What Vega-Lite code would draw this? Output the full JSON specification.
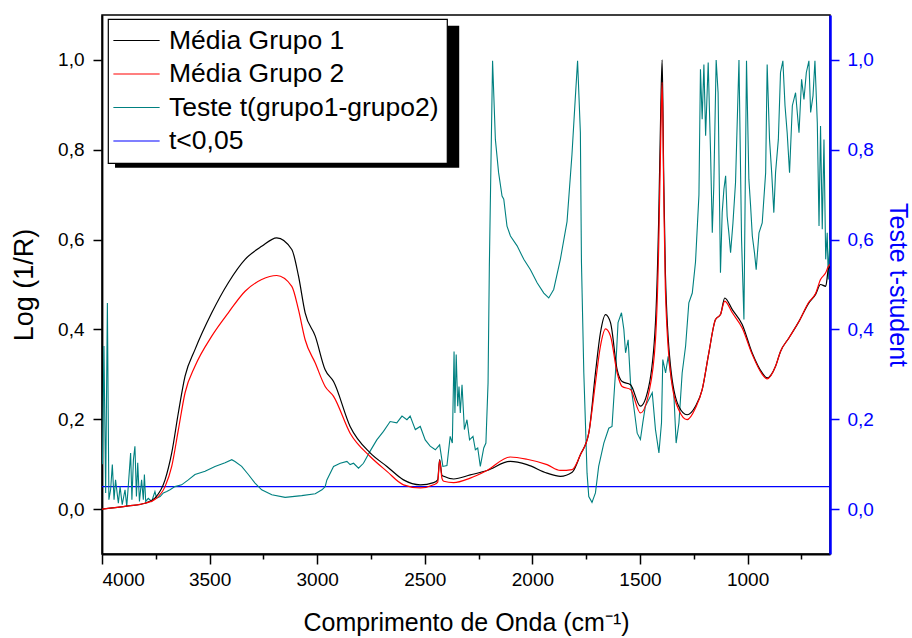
{
  "$schema": "https://vega.github.io/schema/vega-lite/v6.json",
  "width": 728,
  "height": 539,
  "autosize": {"type": "none"},
  "padding": {"left": 102, "top": 15, "right": 82, "bottom": 84},
  "background": "white",
  "config": {
    "font": "Liberation Sans",
    "view": {"stroke": "black", "strokeWidth": 1.5},
    "axis": {"grid": false, "labelFont": "Liberation Sans", "titleFont": "Liberation Sans", "labelColor": "black", "titleColor": "black", "tickColor": "black", "domainColor": "black", "tickWidth": 1.5, "domainWidth": 1.8, "labelFontSize": 19, "titleFontSize": 26, "titleFontWeight": "normal"},
    "legend": {"orient": "none", "legendX": 6, "legendY": 4, "symbolType": "M-1.85,0L1.85,0", "symbolSize": 625, "symbolOffset": 7, "symbolStrokeWidth": 1.2, "labelFont": "Liberation Sans", "labelFontSize": 26.5, "labelColor": "black", "labelLimit": 400, "labelOffset": 19, "fillColor": "white", "strokeColor": "black", "strokeWidth": 1.2, "padding": 8, "rowPadding": 6.5, "cornerRadius": 0}
  },
  "datasets": {
    "spectra": [
      {"s":"Média Grupo 1","x":4000,"y":0.0},{"s":"Média Grupo 1","x":3878,"y":0.007},{"s":"Média Grupo 1","x":3800,"y":0.013},{"s":"Média Grupo 1","x":3753,"y":0.025},{"s":"Média Grupo 1","x":3707,"y":0.065},{"s":"Média Grupo 1","x":3676,"y":0.125},{"s":"Média Grupo 1","x":3645,"y":0.215},{"s":"Média Grupo 1","x":3614,"y":0.296},{"s":"Média Grupo 1","x":3568,"y":0.355},{"s":"Média Grupo 1","x":3490,"y":0.437},{"s":"Média Grupo 1","x":3413,"y":0.504},{"s":"Média Grupo 1","x":3335,"y":0.556},{"s":"Média Grupo 1","x":3258,"y":0.585},{"s":"Média Grupo 1","x":3188,"y":0.604},{"s":"Média Grupo 1","x":3118,"y":0.578},{"s":"Média Grupo 1","x":3087,"y":0.519},{"s":"Média Grupo 1","x":3056,"y":0.437},{"s":"Média Grupo 1","x":3009,"y":0.385},{"s":"Média Grupo 1","x":2963,"y":0.31},{"s":"Média Grupo 1","x":2924,"y":0.284},{"s":"Média Grupo 1","x":2847,"y":0.184},{"s":"Média Grupo 1","x":2754,"y":0.125},{"s":"Média Grupo 1","x":2676,"y":0.095},{"s":"Média Grupo 1","x":2599,"y":0.065},{"s":"Média Grupo 1","x":2521,"y":0.054},{"s":"Média Grupo 1","x":2459,"y":0.059},{"s":"Média Grupo 1","x":2440,"y":0.065},{"s":"Média Grupo 1","x":2431,"y":0.11},{"s":"Média Grupo 1","x":2420,"y":0.075},{"s":"Média Grupo 1","x":2412,"y":0.073},{"s":"Média Grupo 1","x":2366,"y":0.067},{"s":"Média Grupo 1","x":2289,"y":0.076},{"s":"Média Grupo 1","x":2211,"y":0.086},{"s":"Média Grupo 1","x":2103,"y":0.106},{"s":"Média Grupo 1","x":2025,"y":0.099},{"s":"Média Grupo 1","x":1932,"y":0.08},{"s":"Média Grupo 1","x":1870,"y":0.073},{"s":"Média Grupo 1","x":1815,"y":0.082},{"s":"Média Grupo 1","x":1777,"y":0.121},{"s":"Média Grupo 1","x":1738,"y":0.169},{"s":"Média Grupo 1","x":1707,"y":0.303},{"s":"Média Grupo 1","x":1684,"y":0.392},{"s":"Média Grupo 1","x":1660,"y":0.433},{"s":"Média Grupo 1","x":1637,"y":0.415},{"s":"Média Grupo 1","x":1606,"y":0.31},{"s":"Média Grupo 1","x":1583,"y":0.284},{"s":"Média Grupo 1","x":1544,"y":0.277},{"s":"Média Grupo 1","x":1498,"y":0.229},{"s":"Média Grupo 1","x":1459,"y":0.273},{"s":"Média Grupo 1","x":1428,"y":0.415},{"s":"Média Grupo 1","x":1413,"y":0.645},{"s":"Média Grupo 1","x":1403,"y":0.9},{"s":"Média Grupo 1","x":1397,"y":1.0},{"s":"Média Grupo 1","x":1390,"y":0.75},{"s":"Média Grupo 1","x":1382,"y":0.526},{"s":"Média Grupo 1","x":1358,"y":0.318},{"s":"Média Grupo 1","x":1320,"y":0.229},{"s":"Média Grupo 1","x":1281,"y":0.21},{"s":"Média Grupo 1","x":1242,"y":0.229},{"s":"Média Grupo 1","x":1211,"y":0.266},{"s":"Média Grupo 1","x":1180,"y":0.348},{"s":"Média Grupo 1","x":1149,"y":0.422},{"s":"Média Grupo 1","x":1126,"y":0.433},{"s":"Média Grupo 1","x":1106,"y":0.47},{"s":"Média Grupo 1","x":1071,"y":0.444},{"s":"Média Grupo 1","x":1025,"y":0.411},{"s":"Média Grupo 1","x":979,"y":0.348},{"s":"Média Grupo 1","x":932,"y":0.303},{"s":"Média Grupo 1","x":909,"y":0.292},{"s":"Média Grupo 1","x":870,"y":0.318},{"s":"Média Grupo 1","x":847,"y":0.351},{"s":"Média Grupo 1","x":808,"y":0.381},{"s":"Média Grupo 1","x":761,"y":0.418},{"s":"Média Grupo 1","x":715,"y":0.459},{"s":"Média Grupo 1","x":684,"y":0.478},{"s":"Média Grupo 1","x":661,"y":0.5},{"s":"Média Grupo 1","x":637,"y":0.496},{"s":"Média Grupo 1","x":625,"y":0.533},{"s":"Média Grupo 1","x":617,"y":0.54},
      {"s":"Média Grupo 2","x":4000,"y":0.0},{"s":"Média Grupo 2","x":3878,"y":0.007},{"s":"Média Grupo 2","x":3800,"y":0.013},{"s":"Média Grupo 2","x":3753,"y":0.022},{"s":"Média Grupo 2","x":3707,"y":0.05},{"s":"Média Grupo 2","x":3676,"y":0.095},{"s":"Média Grupo 2","x":3645,"y":0.177},{"s":"Média Grupo 2","x":3614,"y":0.259},{"s":"Média Grupo 2","x":3568,"y":0.318},{"s":"Média Grupo 2","x":3490,"y":0.385},{"s":"Média Grupo 2","x":3413,"y":0.437},{"s":"Média Grupo 2","x":3335,"y":0.485},{"s":"Média Grupo 2","x":3258,"y":0.511},{"s":"Média Grupo 2","x":3188,"y":0.52},{"s":"Média Grupo 2","x":3118,"y":0.496},{"s":"Média Grupo 2","x":3087,"y":0.444},{"s":"Média Grupo 2","x":3056,"y":0.377},{"s":"Média Grupo 2","x":3009,"y":0.325},{"s":"Média Grupo 2","x":2963,"y":0.273},{"s":"Média Grupo 2","x":2924,"y":0.251},{"s":"Média Grupo 2","x":2847,"y":0.169},{"s":"Média Grupo 2","x":2754,"y":0.117},{"s":"Média Grupo 2","x":2676,"y":0.084},{"s":"Média Grupo 2","x":2599,"y":0.054},{"s":"Média Grupo 2","x":2521,"y":0.047},{"s":"Média Grupo 2","x":2459,"y":0.054},{"s":"Média Grupo 2","x":2440,"y":0.06},{"s":"Média Grupo 2","x":2431,"y":0.108},{"s":"Média Grupo 2","x":2420,"y":0.068},{"s":"Média Grupo 2","x":2412,"y":0.062},{"s":"Média Grupo 2","x":2366,"y":0.059},{"s":"Média Grupo 2","x":2289,"y":0.069},{"s":"Média Grupo 2","x":2211,"y":0.086},{"s":"Média Grupo 2","x":2103,"y":0.116},{"s":"Média Grupo 2","x":2025,"y":0.111},{"s":"Média Grupo 2","x":1932,"y":0.099},{"s":"Média Grupo 2","x":1870,"y":0.086},{"s":"Média Grupo 2","x":1815,"y":0.088},{"s":"Média Grupo 2","x":1777,"y":0.121},{"s":"Média Grupo 2","x":1738,"y":0.169},{"s":"Média Grupo 2","x":1707,"y":0.281},{"s":"Média Grupo 2","x":1684,"y":0.362},{"s":"Média Grupo 2","x":1660,"y":0.401},{"s":"Média Grupo 2","x":1637,"y":0.385},{"s":"Média Grupo 2","x":1606,"y":0.303},{"s":"Média Grupo 2","x":1583,"y":0.273},{"s":"Média Grupo 2","x":1544,"y":0.266},{"s":"Média Grupo 2","x":1498,"y":0.214},{"s":"Média Grupo 2","x":1459,"y":0.259},{"s":"Média Grupo 2","x":1428,"y":0.377},{"s":"Média Grupo 2","x":1413,"y":0.585},{"s":"Média Grupo 2","x":1403,"y":0.84},{"s":"Média Grupo 2","x":1397,"y":0.95},{"s":"Média Grupo 2","x":1390,"y":0.72},{"s":"Média Grupo 2","x":1382,"y":0.489},{"s":"Média Grupo 2","x":1358,"y":0.303},{"s":"Média Grupo 2","x":1320,"y":0.221},{"s":"Média Grupo 2","x":1281,"y":0.199},{"s":"Média Grupo 2","x":1242,"y":0.225},{"s":"Média Grupo 2","x":1211,"y":0.266},{"s":"Média Grupo 2","x":1180,"y":0.348},{"s":"Média Grupo 2","x":1149,"y":0.422},{"s":"Média Grupo 2","x":1126,"y":0.433},{"s":"Média Grupo 2","x":1106,"y":0.463},{"s":"Média Grupo 2","x":1071,"y":0.437},{"s":"Média Grupo 2","x":1025,"y":0.403},{"s":"Média Grupo 2","x":979,"y":0.345},{"s":"Média Grupo 2","x":932,"y":0.3},{"s":"Média Grupo 2","x":909,"y":0.29},{"s":"Média Grupo 2","x":870,"y":0.318},{"s":"Média Grupo 2","x":847,"y":0.351},{"s":"Média Grupo 2","x":808,"y":0.381},{"s":"Média Grupo 2","x":761,"y":0.418},{"s":"Média Grupo 2","x":715,"y":0.461},{"s":"Média Grupo 2","x":684,"y":0.48},{"s":"Média Grupo 2","x":661,"y":0.511},{"s":"Média Grupo 2","x":637,"y":0.526},{"s":"Média Grupo 2","x":625,"y":0.54},{"s":"Média Grupo 2","x":617,"y":0.545}
    ],
    "ttest": [
      {"s":"t<0,05","x":4000,"y":0.05},{"s":"t<0,05","x":617,"y":0.05},
      {"s":"Teste t(grupo1-grupo2)","x":3998,"y":0.1},{"s":"Teste t(grupo1-grupo2)","x":3991,"y":0.363},{"s":"Teste t(grupo1-grupo2)","x":3983,"y":0.036},{"s":"Teste t(grupo1-grupo2)","x":3975,"y":0.459},{"s":"Teste t(grupo1-grupo2)","x":3968,"y":0.021},{"s":"Teste t(grupo1-grupo2)","x":3960,"y":0.043},{"s":"Teste t(grupo1-grupo2)","x":3952,"y":0.099},{"s":"Teste t(grupo1-grupo2)","x":3944,"y":0.021},{"s":"Teste t(grupo1-grupo2)","x":3937,"y":0.065},{"s":"Teste t(grupo1-grupo2)","x":3924,"y":0.013},{"s":"Teste t(grupo1-grupo2)","x":3916,"y":0.05},{"s":"Teste t(grupo1-grupo2)","x":3906,"y":0.01},{"s":"Teste t(grupo1-grupo2)","x":3893,"y":0.043},{"s":"Teste t(grupo1-grupo2)","x":3885,"y":0.006},{"s":"Teste t(grupo1-grupo2)","x":3878,"y":0.05},{"s":"Teste t(grupo1-grupo2)","x":3867,"y":0.125},{"s":"Teste t(grupo1-grupo2)","x":3861,"y":0.021},{"s":"Teste t(grupo1-grupo2)","x":3854,"y":0.11},{"s":"Teste t(grupo1-grupo2)","x":3847,"y":0.14},{"s":"Teste t(grupo1-grupo2)","x":3840,"y":0.028},{"s":"Teste t(grupo1-grupo2)","x":3834,"y":0.103},{"s":"Teste t(grupo1-grupo2)","x":3826,"y":0.017},{"s":"Teste t(grupo1-grupo2)","x":3816,"y":0.065},{"s":"Teste t(grupo1-grupo2)","x":3808,"y":0.021},{"s":"Teste t(grupo1-grupo2)","x":3803,"y":0.077},{"s":"Teste t(grupo1-grupo2)","x":3797,"y":0.017},{"s":"Teste t(grupo1-grupo2)","x":3785,"y":0.024},{"s":"Teste t(grupo1-grupo2)","x":3769,"y":0.017},{"s":"Teste t(grupo1-grupo2)","x":3754,"y":0.039},{"s":"Teste t(grupo1-grupo2)","x":3746,"y":0.024},{"s":"Teste t(grupo1-grupo2)","x":3730,"y":0.028},{"s":"Teste t(grupo1-grupo2)","x":3715,"y":0.036},{"s":"Teste t(grupo1-grupo2)","x":3699,"y":0.039},{"s":"Teste t(grupo1-grupo2)","x":3684,"y":0.043},{"s":"Teste t(grupo1-grupo2)","x":3661,"y":0.05},{"s":"Teste t(grupo1-grupo2)","x":3630,"y":0.054},{"s":"Teste t(grupo1-grupo2)","x":3599,"y":0.065},{"s":"Teste t(grupo1-grupo2)","x":3568,"y":0.077},{"s":"Teste t(grupo1-grupo2)","x":3521,"y":0.084},{"s":"Teste t(grupo1-grupo2)","x":3475,"y":0.095},{"s":"Teste t(grupo1-grupo2)","x":3428,"y":0.103},{"s":"Teste t(grupo1-grupo2)","x":3397,"y":0.11},{"s":"Teste t(grupo1-grupo2)","x":3382,"y":0.106},{"s":"Teste t(grupo1-grupo2)","x":3351,"y":0.095},{"s":"Teste t(grupo1-grupo2)","x":3320,"y":0.077},{"s":"Teste t(grupo1-grupo2)","x":3289,"y":0.058},{"s":"Teste t(grupo1-grupo2)","x":3258,"y":0.043},{"s":"Teste t(grupo1-grupo2)","x":3211,"y":0.032},{"s":"Teste t(grupo1-grupo2)","x":3149,"y":0.026},{"s":"Teste t(grupo1-grupo2)","x":3072,"y":0.03},{"s":"Teste t(grupo1-grupo2)","x":3009,"y":0.034},{"s":"Teste t(grupo1-grupo2)","x":2978,"y":0.043},{"s":"Teste t(grupo1-grupo2)","x":2963,"y":0.05},{"s":"Teste t(grupo1-grupo2)","x":2955,"y":0.065},{"s":"Teste t(grupo1-grupo2)","x":2924,"y":0.095},{"s":"Teste t(grupo1-grupo2)","x":2893,"y":0.102},{"s":"Teste t(grupo1-grupo2)","x":2862,"y":0.106},{"s":"Teste t(grupo1-grupo2)","x":2847,"y":0.099},{"s":"Teste t(grupo1-grupo2)","x":2831,"y":0.102},{"s":"Teste t(grupo1-grupo2)","x":2808,"y":0.091},{"s":"Teste t(grupo1-grupo2)","x":2785,"y":0.102},{"s":"Teste t(grupo1-grupo2)","x":2754,"y":0.129},{"s":"Teste t(grupo1-grupo2)","x":2723,"y":0.154},{"s":"Teste t(grupo1-grupo2)","x":2692,"y":0.173},{"s":"Teste t(grupo1-grupo2)","x":2661,"y":0.195},{"s":"Teste t(grupo1-grupo2)","x":2630,"y":0.192},{"s":"Teste t(grupo1-grupo2)","x":2606,"y":0.207},{"s":"Teste t(grupo1-grupo2)","x":2583,"y":0.199},{"s":"Teste t(grupo1-grupo2)","x":2568,"y":0.207},{"s":"Teste t(grupo1-grupo2)","x":2544,"y":0.177},{"s":"Teste t(grupo1-grupo2)","x":2521,"y":0.184},{"s":"Teste t(grupo1-grupo2)","x":2498,"y":0.154},{"s":"Teste t(grupo1-grupo2)","x":2475,"y":0.14},{"s":"Teste t(grupo1-grupo2)","x":2451,"y":0.132},{"s":"Teste t(grupo1-grupo2)","x":2431,"y":0.143},{"s":"Teste t(grupo1-grupo2)","x":2416,"y":0.095},{"s":"Teste t(grupo1-grupo2)","x":2397,"y":0.097},{"s":"Teste t(grupo1-grupo2)","x":2382,"y":0.162},{"s":"Teste t(grupo1-grupo2)","x":2372,"y":0.147},{"s":"Teste t(grupo1-grupo2)","x":2364,"y":0.351},{"s":"Teste t(grupo1-grupo2)","x":2360,"y":0.214},{"s":"Teste t(grupo1-grupo2)","x":2354,"y":0.344},{"s":"Teste t(grupo1-grupo2)","x":2347,"y":0.229},{"s":"Teste t(grupo1-grupo2)","x":2341,"y":0.273},{"s":"Teste t(grupo1-grupo2)","x":2335,"y":0.214},{"s":"Teste t(grupo1-grupo2)","x":2327,"y":0.277},{"s":"Teste t(grupo1-grupo2)","x":2316,"y":0.177},{"s":"Teste t(grupo1-grupo2)","x":2304,"y":0.199},{"s":"Teste t(grupo1-grupo2)","x":2292,"y":0.154},{"s":"Teste t(grupo1-grupo2)","x":2276,"y":0.162},{"s":"Teste t(grupo1-grupo2)","x":2265,"y":0.132},{"s":"Teste t(grupo1-grupo2)","x":2254,"y":0.136},{"s":"Teste t(grupo1-grupo2)","x":2242,"y":0.095},{"s":"Teste t(grupo1-grupo2)","x":2226,"y":0.136},{"s":"Teste t(grupo1-grupo2)","x":2216,"y":0.147},{"s":"Teste t(grupo1-grupo2)","x":2206,"y":0.281},{"s":"Teste t(grupo1-grupo2)","x":2200,"y":0.541},{"s":"Teste t(grupo1-grupo2)","x":2185,"y":0.998},{"s":"Teste t(grupo1-grupo2)","x":2172,"y":0.823},{"s":"Teste t(grupo1-grupo2)","x":2157,"y":0.749},{"s":"Teste t(grupo1-grupo2)","x":2141,"y":0.697},{"s":"Teste t(grupo1-grupo2)","x":2133,"y":0.69},{"s":"Teste t(grupo1-grupo2)","x":2118,"y":0.63},{"s":"Teste t(grupo1-grupo2)","x":2102,"y":0.608},{"s":"Teste t(grupo1-grupo2)","x":2071,"y":0.586},{"s":"Teste t(grupo1-grupo2)","x":2040,"y":0.556},{"s":"Teste t(grupo1-grupo2)","x":2009,"y":0.533},{"s":"Teste t(grupo1-grupo2)","x":1978,"y":0.504},{"s":"Teste t(grupo1-grupo2)","x":1947,"y":0.481},{"s":"Teste t(grupo1-grupo2)","x":1924,"y":0.47},{"s":"Teste t(grupo1-grupo2)","x":1901,"y":0.489},{"s":"Teste t(grupo1-grupo2)","x":1870,"y":0.556},{"s":"Teste t(grupo1-grupo2)","x":1839,"y":0.64},{"s":"Teste t(grupo1-grupo2)","x":1816,"y":0.79},{"s":"Teste t(grupo1-grupo2)","x":1800,"y":0.92},{"s":"Teste t(grupo1-grupo2)","x":1790,"y":0.998},{"s":"Teste t(grupo1-grupo2)","x":1777,"y":0.838},{"s":"Teste t(grupo1-grupo2)","x":1772,"y":0.55},{"s":"Teste t(grupo1-grupo2)","x":1761,"y":0.303},{"s":"Teste t(grupo1-grupo2)","x":1746,"y":0.08},{"s":"Teste t(grupo1-grupo2)","x":1738,"y":0.028},{"s":"Teste t(grupo1-grupo2)","x":1723,"y":0.015},{"s":"Teste t(grupo1-grupo2)","x":1707,"y":0.036},{"s":"Teste t(grupo1-grupo2)","x":1692,"y":0.095},{"s":"Teste t(grupo1-grupo2)","x":1668,"y":0.147},{"s":"Teste t(grupo1-grupo2)","x":1645,"y":0.18},{"s":"Teste t(grupo1-grupo2)","x":1630,"y":0.184},{"s":"Teste t(grupo1-grupo2)","x":1614,"y":0.303},{"s":"Teste t(grupo1-grupo2)","x":1602,"y":0.415},{"s":"Teste t(grupo1-grupo2)","x":1586,"y":0.437},{"s":"Teste t(grupo1-grupo2)","x":1575,"y":0.4},{"s":"Teste t(grupo1-grupo2)","x":1567,"y":0.348},{"s":"Teste t(grupo1-grupo2)","x":1555,"y":0.377},{"s":"Teste t(grupo1-grupo2)","x":1544,"y":0.281},{"s":"Teste t(grupo1-grupo2)","x":1529,"y":0.229},{"s":"Teste t(grupo1-grupo2)","x":1513,"y":0.169},{"s":"Teste t(grupo1-grupo2)","x":1498,"y":0.155},{"s":"Teste t(grupo1-grupo2)","x":1487,"y":0.192},{"s":"Teste t(grupo1-grupo2)","x":1475,"y":0.229},{"s":"Teste t(grupo1-grupo2)","x":1459,"y":0.244},{"s":"Teste t(grupo1-grupo2)","x":1443,"y":0.259},{"s":"Teste t(grupo1-grupo2)","x":1428,"y":0.177},{"s":"Teste t(grupo1-grupo2)","x":1412,"y":0.125},{"s":"Teste t(grupo1-grupo2)","x":1400,"y":0.192},{"s":"Teste t(grupo1-grupo2)","x":1394,"y":0.333},{"s":"Teste t(grupo1-grupo2)","x":1381,"y":0.303},{"s":"Teste t(grupo1-grupo2)","x":1369,"y":0.34},{"s":"Teste t(grupo1-grupo2)","x":1354,"y":0.288},{"s":"Teste t(grupo1-grupo2)","x":1343,"y":0.259},{"s":"Teste t(grupo1-grupo2)","x":1332,"y":0.147},{"s":"Teste t(grupo1-grupo2)","x":1319,"y":0.192},{"s":"Teste t(grupo1-grupo2)","x":1304,"y":0.303},{"s":"Teste t(grupo1-grupo2)","x":1288,"y":0.363},{"s":"Teste t(grupo1-grupo2)","x":1273,"y":0.459},{"s":"Teste t(grupo1-grupo2)","x":1257,"y":0.481},{"s":"Teste t(grupo1-grupo2)","x":1242,"y":0.55},{"s":"Teste t(grupo1-grupo2)","x":1226,"y":0.7},{"s":"Teste t(grupo1-grupo2)","x":1219,"y":0.979},{"s":"Teste t(grupo1-grupo2)","x":1211,"y":0.868},{"s":"Teste t(grupo1-grupo2)","x":1203,"y":0.99},{"s":"Teste t(grupo1-grupo2)","x":1195,"y":0.831},{"s":"Teste t(grupo1-grupo2)","x":1183,"y":0.994},{"s":"Teste t(grupo1-grupo2)","x":1172,"y":0.794},{"s":"Teste t(grupo1-grupo2)","x":1164,"y":0.615},{"s":"Teste t(grupo1-grupo2)","x":1157,"y":0.719},{"s":"Teste t(grupo1-grupo2)","x":1146,"y":1.0},{"s":"Teste t(grupo1-grupo2)","x":1137,"y":0.927},{"s":"Teste t(grupo1-grupo2)","x":1126,"y":0.526},{"s":"Teste t(grupo1-grupo2)","x":1118,"y":0.66},{"s":"Teste t(grupo1-grupo2)","x":1110,"y":0.712},{"s":"Teste t(grupo1-grupo2)","x":1102,"y":0.742},{"s":"Teste t(grupo1-grupo2)","x":1095,"y":0.652},{"s":"Teste t(grupo1-grupo2)","x":1087,"y":0.615},{"s":"Teste t(grupo1-grupo2)","x":1079,"y":0.571},{"s":"Teste t(grupo1-grupo2)","x":1068,"y":0.637},{"s":"Teste t(grupo1-grupo2)","x":1056,"y":0.727},{"s":"Teste t(grupo1-grupo2)","x":1040,"y":1.0},{"s":"Teste t(grupo1-grupo2)","x":1028,"y":0.6},{"s":"Teste t(grupo1-grupo2)","x":1017,"y":0.422},{"s":"Teste t(grupo1-grupo2)","x":1005,"y":0.998},{"s":"Teste t(grupo1-grupo2)","x":994,"y":0.734},{"s":"Teste t(grupo1-grupo2)","x":986,"y":0.675},{"s":"Teste t(grupo1-grupo2)","x":978,"y":0.608},{"s":"Teste t(grupo1-grupo2)","x":968,"y":0.571},{"s":"Teste t(grupo1-grupo2)","x":960,"y":0.533},{"s":"Teste t(grupo1-grupo2)","x":947,"y":0.615},{"s":"Teste t(grupo1-grupo2)","x":932,"y":0.637},{"s":"Teste t(grupo1-grupo2)","x":916,"y":0.749},{"s":"Teste t(grupo1-grupo2)","x":909,"y":0.99},{"s":"Teste t(grupo1-grupo2)","x":898,"y":0.823},{"s":"Teste t(grupo1-grupo2)","x":888,"y":0.749},{"s":"Teste t(grupo1-grupo2)","x":878,"y":0.66},{"s":"Teste t(grupo1-grupo2)","x":870,"y":0.749},{"s":"Teste t(grupo1-grupo2)","x":857,"y":0.823},{"s":"Teste t(grupo1-grupo2)","x":847,"y":0.972},{"s":"Teste t(grupo1-grupo2)","x":836,"y":0.998},{"s":"Teste t(grupo1-grupo2)","x":826,"y":0.898},{"s":"Teste t(grupo1-grupo2)","x":816,"y":0.838},{"s":"Teste t(grupo1-grupo2)","x":805,"y":0.749},{"s":"Teste t(grupo1-grupo2)","x":792,"y":0.898},{"s":"Teste t(grupo1-grupo2)","x":777,"y":0.927},{"s":"Teste t(grupo1-grupo2)","x":761,"y":0.838},{"s":"Teste t(grupo1-grupo2)","x":749,"y":0.957},{"s":"Teste t(grupo1-grupo2)","x":738,"y":0.912},{"s":"Teste t(grupo1-grupo2)","x":727,"y":0.972},{"s":"Teste t(grupo1-grupo2)","x":715,"y":0.998},{"s":"Teste t(grupo1-grupo2)","x":707,"y":0.883},{"s":"Teste t(grupo1-grupo2)","x":696,"y":0.92},{"s":"Teste t(grupo1-grupo2)","x":687,"y":0.998},{"s":"Teste t(grupo1-grupo2)","x":676,"y":0.86},{"s":"Teste t(grupo1-grupo2)","x":668,"y":0.63},{"s":"Teste t(grupo1-grupo2)","x":661,"y":0.853},{"s":"Teste t(grupo1-grupo2)","x":653,"y":0.623},{"s":"Teste t(grupo1-grupo2)","x":645,"y":0.823},{"s":"Teste t(grupo1-grupo2)","x":637,"y":0.556},{"s":"Teste t(grupo1-grupo2)","x":630,"y":0.615},{"s":"Teste t(grupo1-grupo2)","x":625,"y":0.511},{"s":"Teste t(grupo1-grupo2)","x":622,"y":0.556},{"s":"Teste t(grupo1-grupo2)","x":617,"y":0.6}
    ]
  },
  "layer": [
    {
      "data": {"values": [{}]},
      "mark": {"type": "rect", "color": "black"},
      "encoding": {
        "x": {"datum": 3939.5, "type": "quantitative", "scale": {"domain": [617, 4000], "reverse": true, "nice": false, "zero": false}, "axis": null},
        "x2": {"datum": 2340},
        "y": {"datum": 1.076, "type": "quantitative", "scale": {"domain": [-0.1, 1.1], "nice": false, "zero": false}, "axis": null},
        "y2": {"datum": 0.76}
      }
    },
    {
      "data": {"name": "ttest"},
      "mark": {"type": "line", "strokeWidth": 1.1, "clip": true},
      "encoding": {
        "x": {"field": "x", "type": "quantitative",
          "scale": {"domain": [617, 4000], "reverse": true, "nice": false, "zero": false},
          "axis": {"orient": "bottom", "values": [3750, 3250, 2750, 2250, 1750, 1250, 750], "labels": false, "domain": false, "tickSize": 5, "title": null}},
        "y": {"field": "y", "type": "quantitative",
          "scale": {"domain": [-0.1, 1.1], "nice": false, "zero": false},
          "axis": {"orient": "right", "values": [0, 0.2, 0.4, 0.6, 0.8, 1.0], "labelExpr": "replace(format(datum.value, '.1f'), '.', ',')", "tickSize": 9, "labelPadding": 8, "title": "Teste t-student", "titleFontSize": 25, "titlePadding": 11, "titleAngle": 90, "domainColor": "#0000ff", "domainWidth": 2.5, "tickColor": "#0000ff", "labelColor": "#0000ff", "titleColor": "#0000ff"}},
        "color": {"field": "s", "type": "nominal", "legend": null,
          "scale": {"domain": ["Média Grupo 1", "Média Grupo 2", "Teste t(grupo1-grupo2)", "t<0,05"], "range": ["#000000", "#ff0000", "#008080", "#0000ff"]}},
        "order": {"field": "x", "sort": "descending"}
      }
    },
    {
      "data": {"name": "spectra"},
      "mark": {"type": "line", "strokeWidth": 1.2, "clip": true, "interpolate": "monotone"},
      "encoding": {
        "x": {"field": "x", "type": "quantitative",
          "scale": {"domain": [617, 4000], "reverse": true, "nice": false, "zero": false},
          "axis": {"orient": "bottom", "values": [4000, 3500, 3000, 2500, 2000, 1500, 1000], "format": "d", "tickSize": 10, "labelPadding": 6, "title": "Comprimento de Onda (cm⁻¹)", "titlePadding": 21, "titleFontSize": 25}},
        "y": {"field": "y", "type": "quantitative",
          "scale": {"domain": [-0.1, 1.1], "nice": false, "zero": false},
          "axis": {"orient": "left", "values": [0, 0.2, 0.4, 0.6, 0.8, 1.0], "labelExpr": "replace(format(datum.value, '.1f'), '.', ',')", "tickSize": 9, "labelPadding": 9, "title": "Log (1/R)", "titleFontSize": 27, "titlePadding": 19}},
        "color": {"field": "s", "type": "nominal", "title": null, "legend": {"title": null},
          "scale": {"domain": ["Média Grupo 1", "Média Grupo 2", "Teste t(grupo1-grupo2)", "t<0,05"], "range": ["#000000", "#ff0000", "#008080", "#0000ff"]}},
        "order": {"field": "x", "sort": "descending"}
      }
    }
  ],
  "resolve": {"scale": {"y": "independent"}, "axis": {"x": "independent", "y": "independent"}, "legend": {"color": "independent"}}
}
